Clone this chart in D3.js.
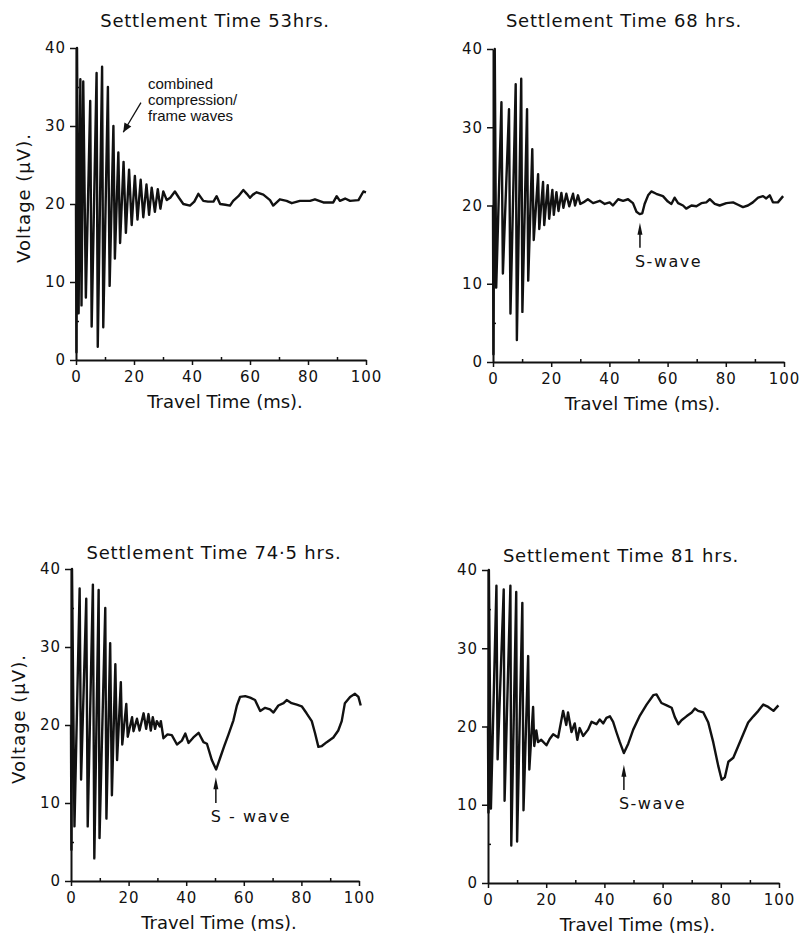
<!DOCTYPE html>
<html>
<head>
<meta charset="utf-8">
<script src="https://cdn.jsdelivr.net/npm/d3@7/dist/d3.min.js"></script>
<style>
body { margin: 0; background: #fff; }
svg text { font-family: "DejaVu Sans", sans-serif; fill: #111; }
.note { font-family: "Liberation Sans", Arial, sans-serif !important; }
</style>
</head>
<body>
<div id="chart"></div>
<script>
// ---- data (time in ms, voltage in µV) ----
var titles = ["Settlement Time  53hrs.", "Settlement Time  68 hrs.", "Settlement Time  74\u00b75 hrs.", "Settlement Time  81 hrs."];
var xTicks = [0, 20, 40, 60, 80, 100];
var xMinor = [10, 30, 50, 70, 90];
var yTicks = [0, 10, 20, 30, 40];
var yMinor = [5, 15, 25, 35];

var t53 = [0, 0.15, 0.35, 0.9, 1.5, 1.9, 2.5, 3.4, 4.9, 5.4, 7.1, 7.5, 9.0, 9.4, 11.0, 11.6, 12.9, 13.4, 14.6, 15.2, 16.4, 17.2, 18.3, 19.2, 20.3, 21.2, 22.3, 23.2, 24.3, 25.2, 26.1, 27.2, 28.2, 29.1, 30.1,
  31.3, 32.5, 34.1, 35.5, 37.0, 39.3, 40.8, 42.2, 43.9, 45.5, 47.4, 48.5, 49.7, 51.5, 53.1, 54.2, 56.0, 57.7, 58.9, 60.0, 61.0, 62.3, 64.6, 66.9, 68.0, 70.3, 72.6, 74.4, 77.2, 80.7, 82.4, 85.3, 88.7, 89.9, 91.0, 92.8, 94.5, 97.4, 99.1, 100];
var v53 = [20, 1, 40, 6, 36, 7, 35.7, 8, 33.2, 4.3, 36.8, 1.7, 37.6, 4.2, 35.0, 9.5, 30.0, 13.0, 26.6, 15.0, 25.4, 16.3, 24.4, 17.3, 23.6, 18.0, 23.1, 18.3, 22.5, 18.6, 22.1, 19.0, 21.9, 19.4, 21.6,
  20.5, 20.8, 21.6, 20.8, 20.0, 19.8, 20.3, 21.3, 20.4, 20.3, 20.3, 21.0, 20.0, 19.9, 19.8, 20.4, 21.0, 21.8, 21.3, 20.8, 21.2, 21.5, 21.2, 20.5, 19.8, 20.6, 20.4, 20.1, 20.4, 20.4, 20.6, 20.2, 20.2, 21.0, 20.4, 20.7, 20.4, 20.5, 21.6, 21.5];

var t68 = [0, 0.15, 0.6, 1.1, 2.9, 3.4, 5.5, 6.0, 7.8, 8.2, 9.7, 10.1, 11.7, 12.1, 13.5, 14.0, 15.5, 15.9, 17.2, 17.6, 18.8, 19.3, 20.4, 20.9, 21.8, 22.5, 23.5, 24.2, 25.2, 26.2, 27.5, 28.2, 29.2, 30.0,
  31.5, 32.6, 34.4, 36.7, 38.4, 40.1, 41.2, 43.0, 44.7, 46.4, 48.1, 49.3, 50.4, 51.3, 52.1, 53.3, 54.4, 56.1, 58.4, 60.1, 61.3, 62.4, 63.6, 65.3, 66.4, 68.2, 69.9, 71.6, 73.3, 74.5, 76.2, 77.9, 80.2, 82.5, 84.2, 85.9, 87.6, 89.3, 91.1, 92.8, 93.9, 95.1, 96.2, 97.9, 99.7];
var v68 = [20, 1, 40, 9.5, 33.2, 11.3, 32.3, 6.2, 35.5, 2.8, 36.2, 6.4, 32.3, 10.4, 27.2, 15.6, 24.0, 17.0, 23.0, 17.5, 22.6, 18.3, 22.0, 18.8, 21.7, 19.3, 21.6, 19.7, 21.5, 19.9, 21.5, 20.0, 21.3, 20.2,
  20.5, 20.8, 20.3, 20.6, 20.2, 20.4, 20.0, 20.8, 20.6, 20.8, 20.3, 19.2, 18.9, 19.0, 20.2, 21.3, 21.8, 21.5, 21.2, 20.5, 20.2, 21.0, 20.3, 20.0, 19.6, 20.0, 19.9, 20.3, 20.4, 20.8, 20.2, 20.0, 20.3, 20.4, 20.1, 19.8, 20.0, 20.4, 21.0, 21.2, 20.9, 21.3, 20.4, 20.4, 21.2];

var t745 = [0, 0.15, 0.35, 1.2, 3.0, 3.5, 5.3, 5.8, 7.6, 8.1, 9.6, 9.9, 11.9, 12.3, 13.6, 14.2, 15.4, 16.0, 17.3, 17.8, 19.2, 19.7, 21.2, 21.7, 22.9, 23.8, 25.2, 26.1, 26.9, 27.7, 28.4, 29.2, 29.8, 30.8, 31.2,
  32.1, 33.5, 35.0, 36.8, 38.5, 39.7, 40.8, 42.5, 44.3, 46.0, 47.2, 48.9, 50.4, 51.8, 53.2, 54.7, 56.4, 57.6, 58.7, 60.5, 62.2, 63.9, 65.7, 67.4, 69.1, 70.3, 72.0, 73.8, 74.9, 76.6, 78.4, 80.1, 81.8, 83.6, 84.7, 85.9, 87.1, 88.8, 91.1, 92.8, 94.0, 95.1, 96.9, 98.6, 99.8, 100.6];
var v745 = [20, 4, 40, 7, 37.5, 13, 36.2, 7, 38.0, 2.9, 37.3, 5.5, 35.0, 8.0, 30.5, 11.0, 27.8, 15.5, 25.5, 17.5, 22.7, 18.5, 21.0, 19.2, 20.8, 19.3, 21.5, 19.5, 21.4, 19.3, 21.0, 19.5, 20.5, 19.8, 20.5,
  18.3, 18.8, 18.7, 17.5, 18.0, 18.9, 17.7, 18.4, 19.0, 17.8, 17.6, 15.5, 14.3, 15.8, 17.3, 18.8, 20.6, 22.5, 23.6, 23.7, 23.5, 23.2, 21.8, 22.2, 22.0, 21.6, 22.5, 22.8, 23.2, 22.8, 22.6, 22.4, 21.5, 20.5, 19.0, 17.2, 17.3, 17.8, 18.4, 19.3, 20.5, 22.8, 23.6, 24.0, 23.6, 22.5];

var t81 = [0, 0.15, 0.3, 1.0, 2.9, 3.3, 5.4, 5.7, 7.7, 8.0, 9.7, 10.0, 11.8, 12.2, 13.8, 14.2, 15.5, 15.9, 16.6, 17.2, 18.3, 20.1, 21.2, 22.4, 24.1, 25.8, 26.9, 27.5, 28.7, 29.8, 30.7, 31.5, 32.7, 34.4, 35.6, 37.3, 38.4, 39.6,
  40.7, 41.9, 43.0, 44.2, 45.3, 46.7, 48.2, 49.9, 52.2, 54.5, 56.8, 57.9, 59.6, 61.4, 63.1, 64.2, 65.4, 66.5, 68.2, 70.0, 71.1, 72.2, 74.0, 75.7, 77.4, 79.1, 80.3, 81.4, 82.6, 84.3, 86.0, 87.7, 89.4, 91.2, 92.9, 94.6, 96.3, 98.1, 99.8];
var v81 = [20, 9, 40, 9.5, 38.0, 15.8, 37.5, 10.5, 38.0, 4.8, 37.2, 5.3, 35.8, 9.3, 29.0, 14.5, 22.5, 17.5, 19.5, 18.0, 18.3, 17.6, 18.4, 19.0, 18.6, 22.0, 20.2, 21.8, 19.3, 20.4, 18.3, 19.8, 18.8, 19.6, 20.6, 20.3, 20.9, 20.4,
  21.1, 21.3, 20.6, 19.2, 18.0, 16.6, 17.8, 19.6, 21.4, 22.8, 24.0, 24.1, 23.0, 22.7, 22.4, 21.2, 20.3, 20.8, 21.3, 21.8, 22.3, 22.0, 21.8, 20.5, 18.0, 15.0, 13.2, 13.5, 15.5, 16.0, 17.5, 19.0, 20.5, 21.3, 22.0, 22.8, 22.5, 22.0, 22.7];

// S-wave markers: [time, arrow tip, arrow tail] ; null where none
var sWave = [null, [50.5, 17.8, 14.6], [50.3, 13.3, 10.0], [46.7, 15.1, 11.9]];
var sWaveText = [null, "S-wave", "S - wave", "S-wave"];

// ---- layout ----
var W = 801, H = 936;
var panels = [
  { t: t53, v: v53, x0: 76, x1: 366, yTop: 48, yBot: 360, titleX: 215, titleY: 27, yLabel: true },
  { t: t68, v: v68, x0: 493, x1: 784, yTop: 49, yBot: 362, titleX: 624, titleY: 27, yLabel: false },
  { t: t745, v: v745, x0: 71, x1: 359, yTop: 569, yBot: 881, titleX: 214, titleY: 559, yLabel: true },
  { t: t81, v: v81, x0: 488, x1: 779, yTop: 570, yBot: 883, titleX: 621, titleY: 562, yLabel: false }
];

var svg = d3.select("#chart").append("svg")
    .attr("width", W)
    .attr("height", H);

panels.forEach(function (p, i) {
    var x = d3.scaleLinear().domain([0, 100]).range([p.x0, p.x1]);
    var y = d3.scaleLinear().domain([0, 40]).range([p.yBot, p.yTop]);
    var g = svg.append("g");

    // title
    g.append("text")
        .attr("x", p.titleX)
        .attr("y", p.titleY)
        .attr("text-anchor", "middle")
        .style("font-size", "18px")
        .style("letter-spacing", "0.8px")
        .text(titles[i]);

    // x axis + minor ticks
    g.append("g")
        .attr("transform", "translate(0," + p.yBot + ")")
        .call(d3.axisBottom(x).tickValues(xTicks).tickSize(5).tickSizeOuter(0).tickPadding(6));
    g.append("g")
        .attr("transform", "translate(0," + p.yBot + ")")
        .call(d3.axisBottom(x).tickValues(xMinor).tickSize(-3).tickFormat(""))
        .select(".domain").remove();

    // y axis + minor ticks
    g.append("g")
        .attr("transform", "translate(" + p.x0 + ",0)")
        .call(d3.axisLeft(y).tickValues(yTicks).tickSize(6).tickSizeOuter(0).tickPadding(4));
    g.append("g")
        .attr("transform", "translate(" + p.x0 + ",0)")
        .call(d3.axisLeft(y).tickValues(yMinor).tickSize(-3).tickFormat(""))
        .select(".domain").remove();

    g.selectAll(".domain").attr("stroke", "#111").attr("stroke-width", 2);
    g.selectAll(".tick line").attr("stroke", "#111").attr("stroke-width", 1.5);
    g.selectAll(".tick text")
        .attr("font-family", "DejaVu Sans, sans-serif")
        .attr("font-size", 15)
        .style("letter-spacing", "1px")
        .attr("fill", "#111");

    // x label
    g.append("text")
        .attr("x", (p.x0 + p.x1) / 2 + 4)
        .attr("y", p.yBot + 48)
        .attr("text-anchor", "middle")
        .style("font-size", "18px")
        .text("Travel Time (ms).");

    // y label
    if (p.yLabel) {
        var cy = (p.yTop + p.yBot) / 2 - 6;
        g.append("text")
            .attr("transform", "translate(" + (p.x0 - 46) + "," + cy + ") rotate(-90)")
            .attr("text-anchor", "middle")
            .style("font-size", "18px")
            .style("letter-spacing", "1px")
            .text("Voltage (\u00b5V).");
    }

    // trace
    var pts = p.t.map(function (d, k) { return [d, p.v[k]]; });
    var line = d3.line()
        .x(function (d) { return x(d[0]); })
        .y(function (d) { return y(d[1]); });
    g.append("path")
        .datum(pts)
        .attr("d", line)
        .attr("fill", "none")
        .attr("stroke", "#111")
        .attr("stroke-width", 2.4)
        .attr("stroke-linejoin", "round");

    // S-wave arrow
    var s = sWave[i];
    if (s) {
        var ax = x(s[0]), tip = y(s[1]), tail = y(s[2]);
        g.append("line")
            .attr("x1", ax).attr("x2", ax)
            .attr("y1", tip + 8).attr("y2", tail)
            .attr("stroke", "#111").attr("stroke-width", 1.5);
        g.append("path")
            .attr("d", "M" + ax + "," + tip + " L" + (ax + 2.5) + "," + (tip + 12) + " L" + (ax - 2.5) + "," + (tip + 12) + " Z")
            .attr("fill", "#111");
        g.append("text")
            .attr("x", ax - 5)
            .attr("y", tail + 19)
            .style("font-size", "16px")
            .style("letter-spacing", "1.5px")
            .text(sWaveText[i]);
    }

    // annotation on first panel
    if (i === 0) {
        var noteLines = ["combined", "compression/", "frame waves"];
        g.selectAll(".note").data(noteLines).enter().append("text")
            .attr("class", "note")
            .attr("x", 148)
            .attr("y", function (d, k) { return 89 + k * 16; })
            .style("font-size", "15px")
            .text(function (d) { return d; });
        var ax0 = x(22.4), ay0 = y(33), ax1 = x(16.3), ay1 = y(29.2);
        g.append("line")
            .attr("x1", ax0).attr("y1", ay0).attr("x2", ax1).attr("y2", ay1)
            .attr("stroke", "#111").attr("stroke-width", 1.3);
        var ang = Math.atan2(ay1 - ay0, ax1 - ax0);
        var hl = 9, hw = 4;
        var bx = ax1 - hl * Math.cos(ang), by = ay1 - hl * Math.sin(ang);
        g.append("path")
            .attr("d", "M" + ax1 + "," + ay1 +
                " L" + (bx + hw * Math.sin(ang)) + "," + (by - hw * Math.cos(ang)) +
                " L" + (bx - hw * Math.sin(ang)) + "," + (by + hw * Math.cos(ang)) + " Z")
            .attr("fill", "#111");
    }
});
</script>
</body>
</html>
